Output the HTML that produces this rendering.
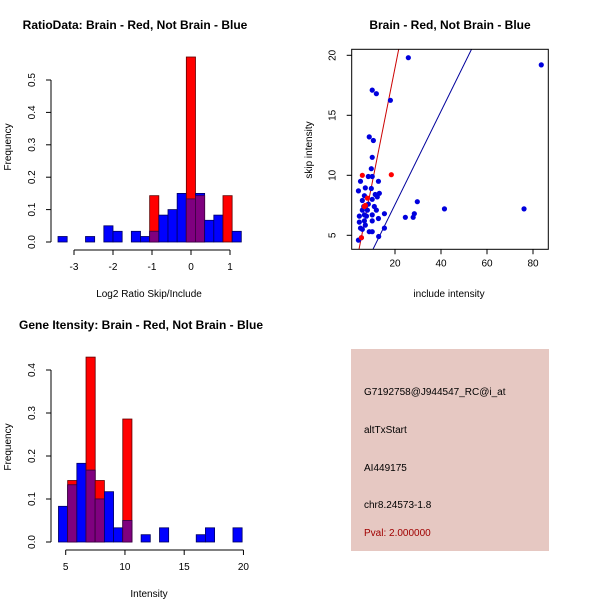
<!DOCTYPE html>
<html><head><meta charset="utf-8"><style>
body{margin:0;background:#fff}
svg{display:block;font-family:"Liberation Sans",sans-serif}
</style></head><body>
<svg id="s" width="600" height="600" viewBox="0 0 600 600">
<rect width="600" height="600" fill="#fff"/>
</svg>
<script>
// Ratio histogram data (20 bins from -3.41, width 0.235)
const ratioStart = -3.41, ratioWidth = 0.235;
const ratioBlue = [0.017,0,0,0.017,0,0.05,0.033,0,0.033,0.017,0.033,0.083,0.1,0.15,0.133,0.15,0.067,0.083,0,0.033];
const ratioRed  = [0,0,0,0,0,0,0,0,0,0,0.143,0,0,0,0.571,0.143,0,0,0.143,0];
const ratioXTicks = [-3,-2,-1,0,1];
const ratioYTicks = [0,0.1,0.2,0.3,0.4,0.5];
// Intensity histogram data (20 bins from 4.39, width 0.775)
const intStart = 4.39, intWidth = 0.775;
const intBlue = [0.083,0.133,0.183,0.167,0.1,0.117,0.033,0.05,0,0.017,0,0.033,0,0,0,0.017,0.033,0,0,0.033];
const intRed  = [0,0.143,0,0.43,0.143,0,0,0.286,0,0,0,0,0,0,0,0,0,0,0,0];
const intXTicks = [5,10,15,20];
const intYTicks = [0,0.1,0.2,0.3,0.4];
// Scatter data
const blueX = [25.8,83.6,10.1,11.9,18,8.8,10.6,10.1,9.7,8.4,10.1,5,12.8,4.1,7.1,9.7,6.7,11.4,13.2,5.8,10.1,12.3,29.7,8.4,11,41.5,76.1,5.8,8,11.9,28.4,4.5,6.7,10.1,15.4,27.9,24.5,4.5,6.7,10.1,12.8,5,7.1,8.8,10.1,15.4,5.8,5.4,4.1,12.9,7.6,6.4];
const blueY = [19.8,19.2,17.1,16.8,16.25,13.2,12.9,11.5,10.55,9.9,9.9,9.5,9.5,8.7,8.95,8.9,8.3,8.4,8.5,7.9,8.0,8.2,7.8,7.6,7.4,7.2,7.2,7.1,7.1,7.1,6.8,6.6,6.7,6.7,6.8,6.5,6.5,6.1,6.2,6.2,6.4,5.6,5.85,5.3,5.3,5.6,5.5,4.8,4.6,4.9,6.6,7.4];
const redX = [5.8,18.4,8,7.1,6.7,5.4];
const redY = [10,10.05,8.1,7.5,7.4,4.8];
const redLine = [-0.37,0.966];   // intercept, slope
const blueLine = [-0.22,0.389];
const scXTicks = [20,40,60,80];
const scYTicks = [5,10,15,20];

const NS="http://www.w3.org/2000/svg", S=document.getElementById('s');
function mk(t,a,p){const e=document.createElementNS(NS,t);for(const k in a)e.setAttribute(k,a[k]);(p||S).appendChild(e);return e;}
function txt(x,y,s,o,p){const e=mk('text',Object.assign({x:x,y:y,'font-size':10,'text-anchor':'middle',fill:'#000'},o||{}),p);e.textContent=s;return e;}

function hist(cfg){
  const g=mk('g',{});
  
  
  const sx=v=>cfg.x0+(v-cfg.xv0)*cfg.kx, sy=v=>cfg.y0-v*cfg.ky;
  for(let i=0;i<cfg.blue.length;i++){
    const a=cfg.start+i*cfg.w, b=a+cfg.w, x1=sx(a), x2=sx(b);
    const r=cfg.red[i], bl=cfg.blue[i];
    if(r>0){const e=mk('rect',{x:x1,y:sy(r),width:x2-x1,height:sy(0)-sy(r),fill:'#ff0000',stroke:'#600000','stroke-width':0.8},g);
      }
    if(bl>0){const e=mk('rect',{x:x1,y:sy(bl),width:x2-x1,height:sy(0)-sy(bl),fill:'#0000ff',stroke:'#000060','stroke-width':0.8},g);
      }
    if(r>0&&bl>0){const m=Math.min(r,bl);const e=mk('rect',{x:x1,y:sy(m),width:x2-x1,height:sy(0)-sy(m),fill:'#7f007f',stroke:'#400040','stroke-width':0.8},g);
      }
  }
  const ya=mk('g',{},g);
  const yt=cfg.yticks;
  mk('line',{x1:cfg.ax,y1:sy(yt[0]),x2:cfg.ax,y2:sy(yt[yt.length-1]),stroke:'#000'},ya);
  yt.forEach(v=>{mk('line',{x1:cfg.ax-5,y1:sy(v),x2:cfg.ax,y2:sy(v),stroke:'#000'},ya);
    const lx=cfg.ax-16;
    const t=txt(lx,sy(v),v.toFixed(1),{transform:`rotate(-90 ${lx} ${sy(v)})`},ya);});
  const xa=mk('g',{},g);
  const xt=cfg.xticks;
  mk('line',{x1:sx(xt[0]),y1:cfg.ay,x2:sx(xt[xt.length-1]),y2:cfg.ay,stroke:'#000'},xa);
  xt.forEach(v=>{mk('line',{x1:sx(v),y1:cfg.ay,x2:sx(v),y2:cfg.ay+5,stroke:'#000'},xa);
    const t=txt(sx(v),cfg.ay+20,String(v),{},xa);});
}
hist({name:'ratio-histogram',start:ratioStart,w:ratioWidth,blue:ratioBlue,red:ratioRed,x0:191,xv0:0,kx:39,y0:242,ky:324,ax:51,ay:250,xticks:ratioXTicks,yticks:ratioYTicks});
hist({name:'intensity-histogram',start:intStart,w:intWidth,blue:intBlue,red:intRed,x0:65.7,xv0:5,kx:11.85,y0:542,ky:430,ax:51,ay:550,xticks:intXTicks,yticks:intYTicks});

[[135,29,'RatioData: Brain - Red, Not Brain - Blue','title-ratio'],[450,29,'Brain - Red, Not Brain - Blue','title-scatter'],[141,329,'Gene Itensity: Brain - Red, Not Brain - Blue','title-intensity']].forEach(d=>{
  const t=txt(d[0],d[1],d[2],{'font-size':12,'font-weight':'bold'});});
[[149,297,'Log2 Ratio Skip/Include','x-axis-title-ratio'],[449,297,'include intensity','x-axis-title-scatter'],[149,597,'Intensity','x-axis-title-intensity']].forEach(d=>{
  const t=txt(d[0],d[1],d[2]);});
[[11,147,'Frequency','y-axis-title-ratio'],[312,150,'skip intensity','y-axis-title-scatter'],[11,447,'Frequency','y-axis-title-intensity']].forEach(d=>{
  const t=txt(d[0],d[1],d[2],{transform:`rotate(-90 ${d[0]} ${d[1]})`});});

(function(){
  const g=mk('g',{});
  const sx=v=>349+v*2.3, sy=v=>235.3-(v-5)*12;
  const L=351.7,R=548.3,T=49.3,B=249.3;
  const cp=mk('clipPath',{id:'cp'},g);mk('rect',{x:L,y:T,width:R-L,height:B-T},cp);
  const pts=mk('g',{'clip-path':'url(#cp)'},g);
  [[redLine,'#cc0000','red-regression-line'],[blueLine,'#00009c','blue-regression-line']].forEach(d=>{
    const x1=0,x2=100;const e=mk('line',{x1:sx(x1),y1:sy(d[0][0]+d[0][1]*x1),x2:sx(x2),y2:sy(d[0][0]+d[0][1]*x2),stroke:d[1],'stroke-width':1},pts);
    });
  blueX.forEach((x,i)=>{const e=mk('circle',{cx:sx(x),cy:sy(blueY[i]),r:2.6,fill:'#0000dd'},pts);
    });
  redX.forEach((x,i)=>{const e=mk('circle',{cx:sx(x),cy:sy(redY[i]),r:2.6,fill:'#ff0000'},pts);
    });
  mk('rect',{x:L,y:T,width:R-L,height:B-T,fill:'none',stroke:'#000'},g);
  scXTicks.forEach(v=>{mk('line',{x1:sx(v),y1:B,x2:sx(v),y2:B+5,stroke:'#000'},g);
    const t=txt(sx(v),B+17,String(v),{},g);});
  scYTicks.forEach(v=>{mk('line',{x1:L-5,y1:sy(v),x2:L,y2:sy(v),stroke:'#000'},g);
    const lx=L-16;
    const t=txt(lx,sy(v),String(v),{transform:`rotate(-90 ${lx} ${sy(v)})`},g);});
})();

(function(){
  const g=mk('g',{});
  mk('rect',{x:351,y:349,width:198,height:202,fill:'#e6c8c2'},g);
  [['G7192758@J944547_RC@i_at',395,'#000','probe-id'],['altTxStart',433,'#000','event-type'],['AI449175',471,'#000','accession'],['chr8.24573-1.8',508,'#000','location'],['Pval: 2.000000',536,'#a00000','p-value']].forEach(d=>{
    const t=txt(364,d[1],d[0],{'text-anchor':'start',fill:d[2]},g);});
})();
</script>
</body></html>
